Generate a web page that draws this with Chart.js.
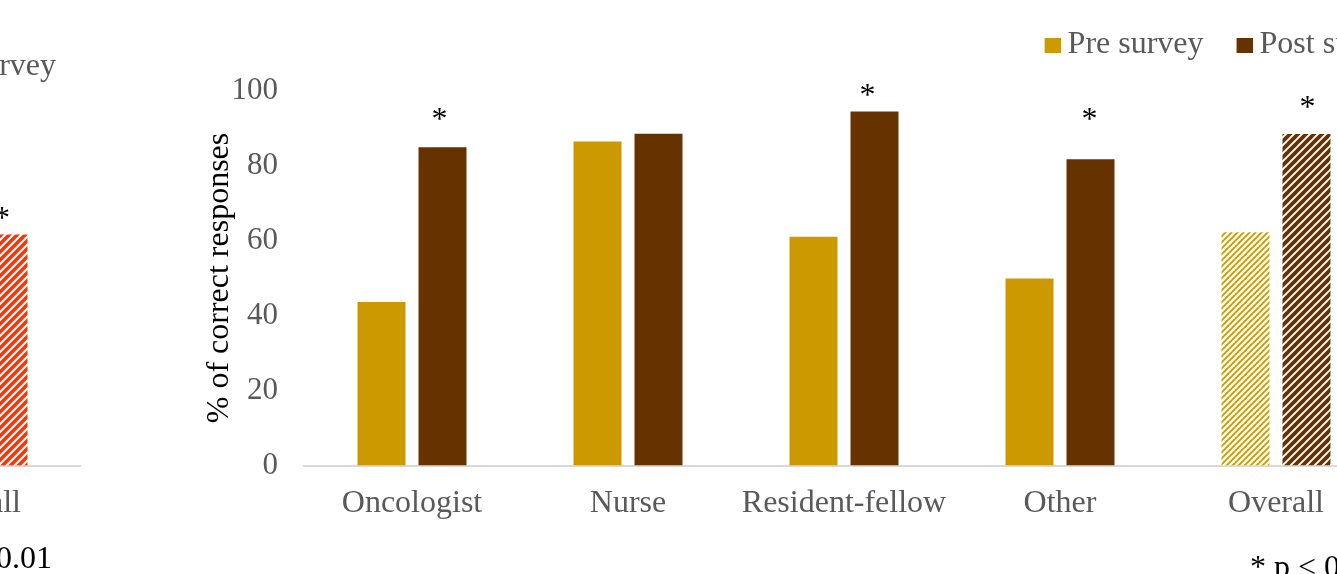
<!DOCTYPE html>
<html>
<head>
<meta charset="utf-8">
<title>% of correct responses, pre and post survey</title>
<script src="https://cdn.jsdelivr.net/npm/chart.js"></script>
<style>
  html, body { margin: 0; padding: 0; background: #ffffff; }
  #page { position: relative; width: 1337px; height: 574px; overflow: hidden; background: #ffffff; }
  #panelA { position: absolute; left: -500px; top: 0; }
  #panelB { position: absolute; left: 0; top: 0; }
</style>
</head>
<body>
<div id="page">
  <canvas id="panelA" width="581" height="600"></canvas>
  <canvas id="panelB" width="1432" height="600"></canvas>
</div>
<script>
// ---- Panel B: respondents by role ----
const categories = ['Oncologist', 'Nurse', 'Resident-fellow', 'Other', 'Overall'];
const preSurvey = [43.6, 86.4, 61.0, 49.9, 62.2];
const postSurvey = [84.9, 88.5, 94.4, 81.7, 88.4];
const significant = [true, false, true, true, true];
const yTickValues = [0, 20, 40, 60, 80, 100];
const seriesNames = ['Pre survey', 'Post survey'];
const footnoteText = '* p < 0.01';
const hatchedCategory = 'Overall';

// ---- Panel A (preceding panel, right end only) ----
const panelACategories = ['Overall'];
const panelAPre = [null];
const panelAPost = [62.0];
const panelASignificant = [true];

const SERIF = "'Liberation Serif', 'Times New Roman', Times, serif";
const GREY = '#595959';
const PRE_COLOR = '#CC9900';
const POST_COLOR = '#663300';
const RED = '#FF3300';
const FS = 32;

// Diagonal "/" hatch tile used as a fill pattern.
function hatch(size, width, color, dash) {
  const c = document.createElement('canvas');
  c.width = size; c.height = size;
  const g = c.getContext('2d');
  g.fillStyle = '#ffffff';
  g.fillRect(0, 0, size, size);
  g.strokeStyle = color;
  g.lineWidth = width;
  g.lineCap = 'square';
  if (dash) g.setLineDash(dash);
  for (const off of [-size, 0, size]) {
    g.beginPath();
    g.moveTo(off, size);
    g.lineTo(off + size, 0);
    g.stroke();
  }
  return g.createPattern(c, 'repeat');
}

// Legend marker: a small square sitting close to its label.
function legendMarker(color) {
  const c = document.createElement('canvas');
  c.width = 34; c.height = 17;
  const g = c.getContext('2d');
  g.fillStyle = color;
  g.fillRect(18, 2, 16, 15);
  return c;
}

const prePattern = hatch(6, 1.8, PRE_COLOR, [2.4, 1.84]);
const postPattern = hatch(8, 3.8, POST_COLOR);
const redPattern = hatch(8, 3.6, RED);
const markers = [legendMarker(PRE_COLOR), legendMarker(POST_COLOR)];

// Significance asterisks above the post-survey bars.
const starsPlugin = {
  id: 'stars',
  afterDatasetsDraw(chart, args, opts) {
    const meta = chart.getDatasetMeta(opts.datasetIndex);
    const ctx = chart.ctx;
    ctx.save();
    ctx.font = opts.font;
    ctx.fillStyle = opts.color;
    ctx.textAlign = 'center';
    ctx.textBaseline = 'alphabetic';
    opts.flags.forEach((flag, i) => {
      const el = meta.data[i];
      if (!flag || !el) return;
      const cy = el.y - opts.lift[i];
      ctx.fillText('*', el.x + opts.shift[i], cy + 14);
    });
    ctx.restore();
  }
};

// Footnote below the category labels.
const footnotePlugin = {
  id: 'footnote',
  afterDraw(chart, args, opts) {
    const ctx = chart.ctx;
    const area = chart.chartArea;
    ctx.save();
    ctx.font = opts.font;
    ctx.fillStyle = opts.color;
    ctx.textAlign = 'right';
    ctx.textBaseline = 'alphabetic';
    ctx.fillText(opts.text, area.right - opts.rightInset, area.bottom + opts.baselineOffset);
    ctx.restore();
  }
};

function barDataset(label, values, color, pattern, cats) {
  const hatchIndex = cats.indexOf(hatchedCategory);
  return {
    label,
    data: values,
    backgroundColor: (c) => (c.dataIndex === hatchIndex ? pattern : color),
    borderWidth: 0,
    categoryPercentage: 0.5648,
    barPercentage: 0.787
  };
}

const labelFont = { family: SERIF, size: FS };

// Panel B
new Chart(document.getElementById('panelB'), {
  type: 'bar',
  data: {
    labels: categories,
    datasets: [
      barDataset(seriesNames[0], preSurvey, PRE_COLOR, prePattern, categories),
      barDataset(seriesNames[1], postSurvey, POST_COLOR, postPattern, categories)
    ]
  },
  options: {
    responsive: false,
    animation: false,
    devicePixelRatio: 1,
    layout: { padding: { top: 4.5, left: 0, right: 0, bottom: 0 } },
    scales: {
      x: {
        grid: { display: false, drawTicks: false },
        border: { color: '#D9D9D9', width: 2 },
        ticks: { font: labelFont, color: GREY, padding: 18.5, maxRotation: 0, autoSkip: false },
        afterFit: (s) => { s.height = 134.5; }
      },
      y: {
        min: yTickValues[0],
        max: yTickValues[yTickValues.length - 1],
        grid: { display: false, drawTicks: false },
        border: { display: false },
        afterBuildTicks: (s) => { s.ticks = yTickValues.map(v => ({ value: v })); },
        ticks: { font: { family: SERIF, size: 31 }, color: GREY, padding: 26 },
        title: {
          display: true,
          text: '% of correct responses',
          color: '#000000',
          font: labelFont,
          padding: { top: 200.4, bottom: 0 }
        },
        afterFit: (s) => { s.width = 304; }
      },
      yRight: {
        position: 'right',
        display: true,
        grid: { display: false, drawTicks: false },
        border: { display: false },
        ticks: { display: false },
        afterFit: (s) => { s.width = 48; }
      }
    },
    plugins: {
      legend: {
        position: 'top',
        align: 'end',
        weight: 3000,
        labels: {
          font: labelFont,
          color: GREY,
          usePointStyle: true,
          pointStyleWidth: 16,
          boxHeight: 15,
          padding: 24,
          generateLabels(chart) {
            const items = Chart.defaults.plugins.legend.labels.generateLabels(chart);
            items.forEach((it, i) => { it.pointStyle = markers[i]; });
            return items;
          }
        }
      },
      title: {
        display: true,
        text: ' ',
        weight: 500,
        font: { size: 1, lineHeight: 1 },
        padding: { top: 0, bottom: 19 }
      },
      tooltip: { enabled: false },
      stars: {
        datasetIndex: 1,
        flags: significant,
        lift: [32, 0, 21, 44, 31],
        shift: [-3, 0, -7, -1, 1],
        font: FS + 'px ' + SERIF,
        color: '#000000'
      },
      footnote: {
        text: footnoteText,
        font: FS + 'px ' + SERIF,
        color: '#000000',
        rightInset: 4,
        baselineOffset: 111
      }
    }
  },
  plugins: [starsPlugin, footnotePlugin]
});

// Panel A
new Chart(document.getElementById('panelA'), {
  type: 'bar',
  data: {
    labels: panelACategories,
    datasets: [
      barDataset(seriesNames[0], panelAPre, '#FF9966', redPattern, panelACategories),
      barDataset(seriesNames[1], panelAPost, RED, redPattern, panelACategories)
    ]
  },
  options: {
    responsive: false,
    animation: false,
    devicePixelRatio: 1,
    layout: { padding: { top: 26, left: 0, right: 0, bottom: 0 } },
    scales: {
      x: {
        grid: { display: false, drawTicks: false },
        border: { color: '#D9D9D9', width: 2 },
        ticks: { font: labelFont, color: GREY, padding: 18.5, maxRotation: 0 },
        afterFit: (s) => { s.height = 134.5; }
      },
      y: {
        min: yTickValues[0],
        max: yTickValues[yTickValues.length - 1],
        grid: { display: false, drawTicks: false },
        border: { display: false },
        ticks: { display: false },
        afterFit: (s) => { s.width = 365; }
      }
    },
    plugins: {
      legend: {
        position: 'top',
        align: 'end',
        weight: 3000,
        labels: {
          font: labelFont,
          color: GREY,
          boxWidth: 16,
          boxHeight: 15,
          padding: 25
        }
      },
      title: { display: false },
      tooltip: { enabled: false },
      stars: {
        datasetIndex: 1,
        flags: panelASignificant,
        lift: [21],
        shift: [-1.5],
        font: FS + 'px ' + SERIF,
        color: '#000000'
      },
      footnote: {
        text: footnoteText,
        font: FS + 'px ' + SERIF,
        color: '#000000',
        rightInset: 29,
        baselineOffset: 102.5
      }
    }
  },
  plugins: [starsPlugin, footnotePlugin]
});
</script>
</body>
</html>
